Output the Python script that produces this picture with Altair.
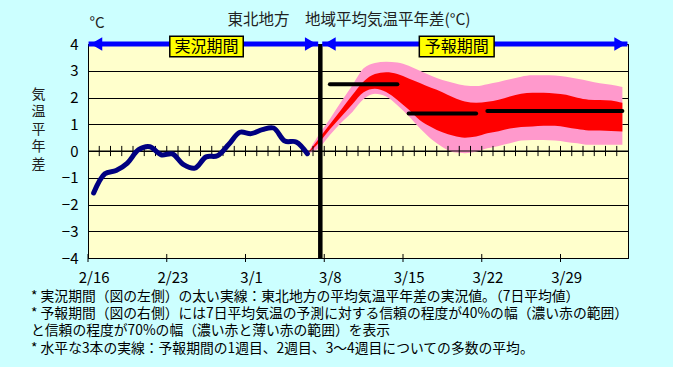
import altair as alt
import pandas as pd

# ---------------- data ----------------
tick_labels = ["2/16", "2/23", "3/1", "3/8", "3/15", "3/22", "3/29"]
n_days = 48

# observed 7-day mean anomaly, day index 0 (2/16) .. 19 (3/6)
obs_values = [-1.57, -0.85, -0.73, -0.45, 0.05, 0.16, -0.14, -0.11, -0.51, -0.64,
              -0.22, -0.18, 0.24, 0.70, 0.65, 0.80, 0.86, 0.37, 0.34, -0.10]

# forecast bands, day index 19 .. 47
fc_start = 19
pink_top = [-0.10, 0.60, 1.20, 1.84, 2.46, 3.09, 3.29, 3.34, 3.31, 3.19, 3.00, 2.81, 2.65, 2.54,
            2.45, 2.43, 2.50, 2.58, 2.68, 2.78, 2.83, 2.83, 2.82, 2.78, 2.70, 2.62, 2.53, 2.48, 2.39]
red_top = [-0.10, 0.45, 1.00, 1.54, 2.09, 2.60, 2.88, 2.94, 2.88, 2.71, 2.54, 2.36, 2.20, 2.00,
           1.85, 1.80, 1.84, 1.92, 2.04, 2.14, 2.18, 2.18, 2.15, 2.10, 1.99, 1.92, 1.91, 1.89, 1.80]
red_bot = [-0.10, 0.30, 0.81, 1.28, 1.75, 2.20, 2.33, 2.21, 1.91, 1.55, 1.15, 0.90, 0.70, 0.57,
           0.50, 0.54, 0.66, 0.74, 0.84, 0.90, 0.92, 0.94, 0.94, 0.89, 0.82, 0.77, 0.77, 0.75, 0.73]
pink_bot = [-0.10, 0.10, 0.60, 1.06, 1.46, 1.94, 2.14, 2.04, 1.71, 1.31, 0.85, 0.45, 0.15, -0.05,
            -0.08, -0.03, 0.10, 0.19, 0.29, 0.39, 0.41, 0.41, 0.39, 0.34, 0.29, 0.23, 0.23, 0.23, 0.23]

# weekly means (week 1, week 2, weeks 3-4)
week_first_day = [21, 28, 35]
week_last_day = [27, 34, 47]
week_means = [2.5, 1.4, 1.5]

split_pos = 20.65  # observed / forecast boundary

title_text = "東北地方　地域平均気温平年差(°C)"
notes = [
    "* 実況期間（図の左側）の太い実線：東北地方の平均気温平年差の実況値。（7日平均値）",
    "* 予報期間（図の右側）には7日平均気温の予測に対する信頼の程度が40%の幅（濃い赤の範囲）",
    "\u00a0\u00a0と信頼の程度が70%の幅（濃い赤と薄い赤の範囲）を表示",
    "* 水平な3本の実線：予報期間の1週目、2週目、3～4週目についての多数の平均。",
]

# ---------------- tables ----------------
FONT = "Noto Sans CJK JP"
obs_df = pd.DataFrame({"x": [i + 0.5 for i in range(len(obs_values))], "v": obs_values})
fc_df = pd.DataFrame({
    "x": [fc_start + i + 0.5 for i in range(len(pink_top))],
    "pt": pink_top, "rt": red_top, "rb": red_bot, "pb": pink_bot,
})
week_df = pd.DataFrame({
    "x": [d + 0.5 for d in week_first_day],
    "x2": [d + 0.5 for d in week_last_day],
    "v": week_means,
})
day_ticks = pd.DataFrame({"x": list(range(1, n_days)), "lo": -0.19, "hi": 0.19})
week_ticks = pd.DataFrame({"x": list(range(0, n_days - 1, 7)), "lo": -4.15, "hi": -3.85})
zero_df = pd.DataFrame({"x": [0], "x2": [n_days], "v": [0]})
split_df = pd.DataFrame({"x": [split_pos], "lo": [-4], "hi": [4]})
arrow_df = pd.DataFrame({"x": [0.05, 20.82], "x2": [20.46, 47.95], "v": [4, 4]})
head_df = pd.DataFrame({
    "x": [0.75, 19.8, 21.5, 47.3],
    "v": [4, 4, 4, 4],
    "shape": ["triangle-left", "triangle-right", "triangle-left", "triangle-right"],
})
box_df = pd.DataFrame({
    "x": [7.27, 29.45], "x2": [13.8, 36.1], "lo": [3.52, 3.52], "hi": [4.29, 4.29],
    "label": ["実況期間", "予報期間"],
})
box_df["cx"] = (box_df["x"] + box_df["x2"]) / 2
box_df["cy"] = (box_df["lo"] + box_df["hi"]) / 2

label_expr = "[" + ",".join("'%s'" % t for t in tick_labels) + "][round((datum.value-0.5)/7)]"

xs = alt.Scale(domain=[0, n_days], nice=False, zero=False)
ys = alt.Scale(domain=[-4, 4], nice=False, zero=False)
x_axis = alt.Axis(values=[0.5 + 7 * k for k in range(len(tick_labels))], labelExpr=label_expr,
                  ticks=False, grid=False, domainColor="black", labelColor="black",
                  labelFont=FONT, labelFontSize=15, labelPadding=12, labelFlush=False,
                  labelOverlap=False, title=None)
y_axis = alt.Axis(values=list(range(-4, 5)), grid=True, gridColor="black", gridWidth=1,
                  domainColor="black", ticks=False, labelColor="black", labelFont=FONT,
                  labelFontSize=15, labelPadding=10,
                  title=["気", "温", "平", "年", "差"], titleAngle=0, titleFont=FONT,
                  titleFontSize=14, titleFontWeight="normal", titleColor="#222222",
                  titleX=-50, titleY=43, titleAlign="center", titleBaseline="top",
                  titleLineHeight=17.5)

X = alt.X("x:Q", scale=xs, axis=x_axis)
Y = lambda f: alt.Y(f, type="quantitative", scale=ys, axis=y_axis)

pink = alt.Chart(fc_df).mark_area(color="#FF99CC", interpolate="monotone").encode(
    x=X, y=Y("pb"), y2="pt")
red = alt.Chart(fc_df).mark_area(color="#FF0000", interpolate="monotone").encode(
    x=X, y=Y("rb"), y2="rt")
zero_line = alt.Chart(zero_df).mark_rule(color="black", strokeWidth=1).encode(
    x=X, x2="x2", y=Y("v"))
dticks = alt.Chart(day_ticks).mark_rule(color="black", strokeWidth=1).encode(
    x=X, y=Y("lo"), y2="hi")
wticks = alt.Chart(week_ticks).mark_rule(color="black", strokeWidth=1).encode(
    x=X, y=Y("lo"), y2="hi")
obs = alt.Chart(obs_df).mark_line(color="#000080", strokeWidth=5, interpolate="catmull-rom",
                                  strokeCap="round").encode(x=X, y=Y("v"))
split = alt.Chart(split_df).mark_rule(color="black", strokeWidth=4.5).encode(
    x=X, y=Y("lo"), y2="hi")
weeks = alt.Chart(week_df).mark_rule(color="black", strokeWidth=4, strokeCap="round").encode(
    x=X, x2="x2", y=Y("v"))
arrows = alt.Chart(arrow_df).mark_rule(color="#0000FF", strokeWidth=5).encode(
    x=X, x2="x2", y=Y("v"))
heads = alt.Chart(head_df).mark_point(filled=True, color="#0000FF", opacity=1, size=180).encode(
    x=X, y=Y("v"), shape=alt.Shape("shape:N", scale=None))
boxes = alt.Chart(box_df).mark_rect(fill="#FFFF00", stroke="black", strokeWidth=1.5).encode(
    x=X, x2="x2", y=Y("lo"), y2="hi")
box_text = alt.Chart(box_df).mark_text(font=FONT, fontSize=16, color="black",
                                       baseline="middle", align="center").encode(
    x=alt.X("cx:Q", scale=xs, axis=x_axis), y=Y("cy"), text="label:N")

dummy = pd.DataFrame({"a": [0]})
title = alt.Chart(dummy).mark_text(text=title_text, font=FONT, fontSize=15.5, color="#222222",
                                   align="center", baseline="middle").encode(
    x=alt.value(261), y=alt.value(-24.5))
unit = alt.Chart(dummy).mark_text(text="°C", font=FONT, fontSize=15, color="#222222",
                                  align="center", baseline="middle").encode(
    x=alt.value(9), y=alt.value(-21))
note_layers = []
for k, t in enumerate(notes):
    note_layers.append(
        alt.Chart(dummy).mark_text(text=t, font=FONT, fontSize=13.8, color="black",
                                   align="left", baseline="middle").encode(
            x=alt.value(-57), y=alt.value(253 + 17.2 * k)))

chart = alt.layer(
    pink, red, zero_line, dticks, wticks, obs, split, weeks, arrows, heads, boxes, box_text,
    title, unit, *note_layers
).properties(
    width=540, height=214,
    padding={"left": 80, "top": 36, "right": 45, "bottom": 109},
    autosize=alt.AutoSizeParams(type="none"),
).configure(
    background="#CCFFFF", font=FONT,
).configure_view(
    fill="#FFFFCC", stroke="black", strokeWidth=1,
)

TEMPLATE_SRC = """<!DOCTYPE html>
<html>
<head>
<meta charset="utf-8">
<style>html, body { background: #CCFFFF; }</style>
<script type="text/javascript" src="{{ base_url }}/vega@{{ vega_version }}"></script>
<script type="text/javascript" src="{{ base_url }}/vega-lite@{{ vegalite_version }}"></script>
<script type="text/javascript" src="{{ base_url }}/vega-embed@{{ vegaembed_version }}"></script>
</head>
<body>
<div id="{{ output_div }}"></div>
<script type="text/javascript">
var spec = {{ spec }};
var embedOpt = {{ embed_options }};
vegaEmbed("#{{ output_div }}", spec, embedOpt);
</script>
</body>
</html>"""

try:
    import jinja2
    chart.save("out.html", embed_options={"renderer": "svg", "actions": False},
               template=jinja2.Template(TEMPLATE_SRC))
except Exception:
    chart.save("out.html", embed_options={"renderer": "svg", "actions": False})
